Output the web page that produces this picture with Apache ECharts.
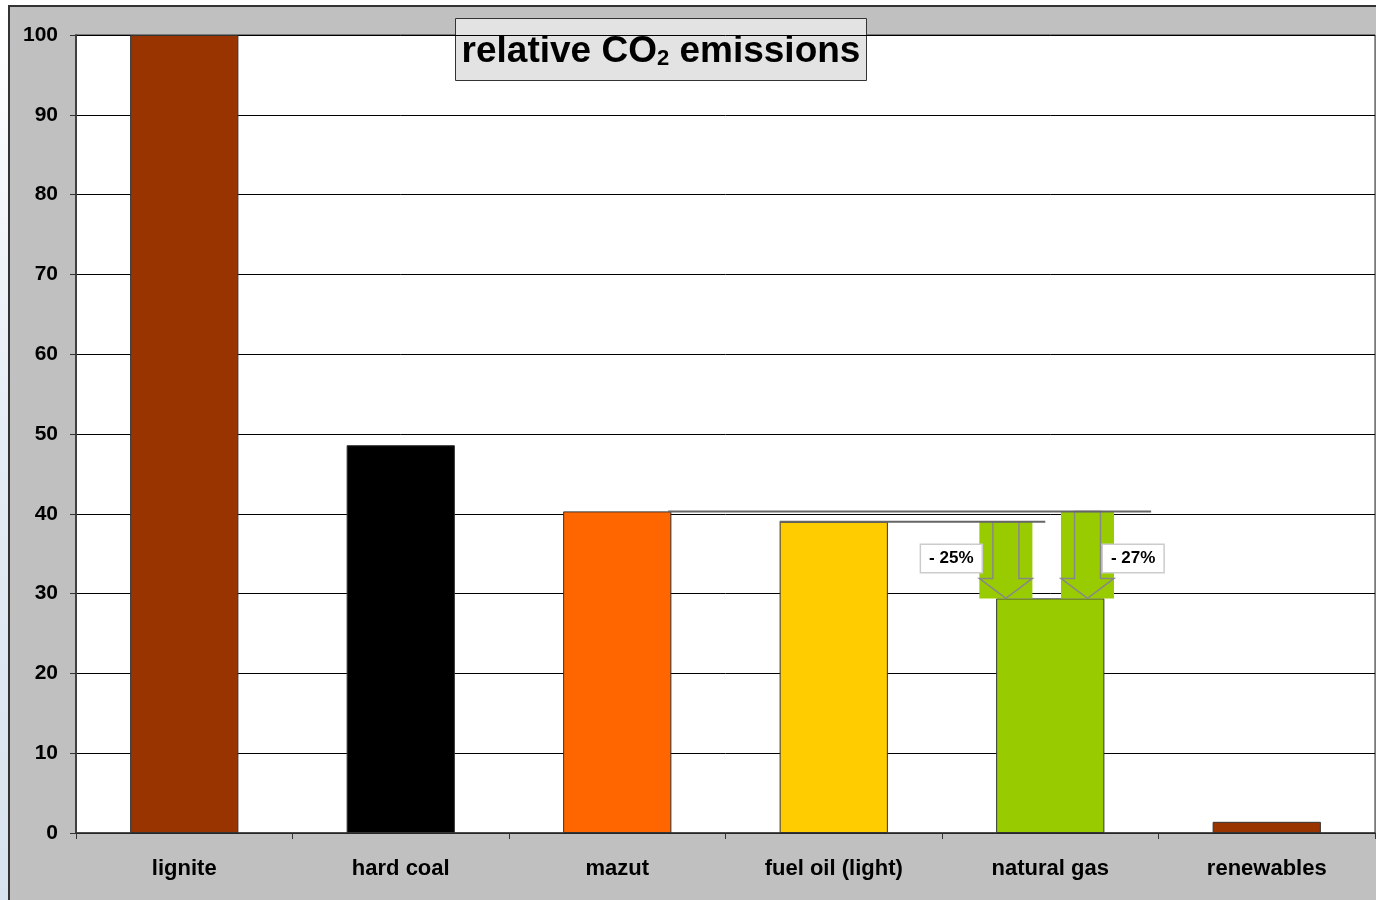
<!DOCTYPE html>
<html>
<head>
<meta charset="utf-8">
<title>relative CO2 emissions</title>
<script src="https://cdn.jsdelivr.net/npm/echarts@6/dist/echarts.min.js"></script>
<style>
  html, body { margin: 0; padding: 0; background: #fff; }
  #chart { width: 1376px; height: 900px; }
</style>
</head>
<body>
<div id="chart"></div>
<script>
// ---- data ----
const categories = ['lignite', 'hard coal', 'mazut', 'fuel oil (light)', 'natural gas', 'renewables']
const emissions = [100, 48.6, 40.3, 39.0, 29.4, 1.4]
const barColors = ['#993300', '#000000', '#ff6600', '#ffcc00', '#99cc00', '#993300']

const yMin = 0
const yMax = 100
const yStep = 10

// reduction arrows: from these categories down to natural gas
const reductionFrom = ['fuel oil (light)', 'mazut']
const reductionTo = 'natural gas'
const reductionLabels = ['- 25%', '- 27%']

const FONT = "'Liberation Sans', Arial, sans-serif"

// layout of each arrow, in fractions of a category width
const arrowLayout = [
  { arrow: -0.205, lineFrom: -0.25, lineTo: -0.023, label: -0.457 },
  { arrow: 0.172, lineFrom: 0.235, lineTo: 0.466, label: 0.383 }
]

const reductionData = reductionFrom.map((name) => {
  const f = categories.indexOf(name)
  const t = categories.indexOf(reductionTo)
  return [f, emissions[f], t, emissions[t]]
})

const renderArrow = (params, api) => {
  const i = params.dataIndex
  const L = arrowLayout[i]
  const bw = api.size([1, 0])[0]
  const top = api.coord([api.value(0), api.value(1)])
  const bottom = api.coord([api.value(2), api.value(3)])
  const ax = bottom[0] + L.arrow * bw
  const aw = 0.245 * bw
  const sw = 0.06 * bw
  const headY = bottom[1] - 20
  const topY = top[1]
  return {
    type: 'group',
    children: [
      {
        type: 'rect',
        shape: { x: ax - aw / 2, y: topY, width: aw, height: bottom[1] - topY },
        style: { fill: '#99cc00' }
      },
      {
        type: 'polygon',
        shape: {
          points: [
            [ax - sw, topY], [ax + sw, topY], [ax + sw, headY],
            [ax + aw / 2, headY], [ax, bottom[1]], [ax - aw / 2, headY],
            [ax - sw, headY]
          ]
        },
        style: { fill: 'none', stroke: '#888', lineWidth: 1.5 }
      },
      {
        type: 'line',
        shape: {
          x1: top[0] + L.lineFrom * bw, y1: topY,
          x2: bottom[0] + L.lineTo * bw, y2: topY
        },
        style: { stroke: '#666', lineWidth: 2 }
      },
      {
        type: 'text',
        x: bottom[0] + L.label * bw,
        y: bottom[1] - 40,
        style: {
          text: reductionLabels[i],
          font: 'bold 17px ' + FONT,
          fill: '#000',
          align: 'center',
          verticalAlign: 'middle',
          backgroundColor: '#fff',
          borderColor: '#ccc',
          borderWidth: 1.5,
          padding: [5, 8]
        }
      }
    ]
  }
}

const chart = echarts.init(document.getElementById('chart'))
chart.setOption({
  backgroundColor: '#c0c0c0',
  animation: false,
  grid: {
    left: 76, right: 1, top: 35, bottom: 67,
    show: true, backgroundColor: '#fff', borderColor: '#333', borderWidth: 1
  },
  xAxis: {
    type: 'category',
    data: categories,
    axisLine: { lineStyle: { color: '#333', width: 1.5 } },
    axisTick: { show: true, length: 6, lineStyle: { color: '#333' } },
    axisLabel: {
      color: '#000', fontFamily: FONT, fontWeight: 'bold', fontSize: 22, margin: 25
    }
  },
  yAxis: {
    type: 'value',
    min: yMin, max: yMax, interval: yStep,
    axisLine: { show: true, lineStyle: { color: '#404040', width: 2 } },
    axisTick: { show: true, length: 6, lineStyle: { color: '#333' } },
    axisLabel: {
      color: '#000', fontFamily: FONT, fontWeight: 'bold', fontSize: 21, margin: 18,
      padding: [4, 0, 0, 0]
    },
    splitLine: { lineStyle: { color: '#000', width: 1 } }
  },
  series: [
    {
      type: 'bar',
      barWidth: '50%',
      data: emissions.map((v, i) => ({
        value: v,
        itemStyle: { color: barColors[i], borderColor: '#333', borderWidth: 1 }
      }))
    },
    {
      type: 'custom',
      renderItem: renderArrow,
      data: reductionData,
      clip: false,
      z: 5,
      silent: true
    }
  ],
  graphic: [
    // slide background strip to the left of the chart frame
    {
      type: 'rect', z: 50,
      shape: { x: 0, y: 0, width: 8, height: 900 },
      style: {
        fill: new echarts.graphic.LinearGradient(0, 0, 0, 1, [
          { offset: 0, color: '#ffffff' },
          { offset: 0.5, color: '#e4ecf4' },
          { offset: 1, color: '#d6e2ee' }
        ])
      }
    },
    {
      type: 'rect', z: 50,
      shape: { x: 0, y: 0, width: 1376, height: 6 },
      style: { fill: '#fff' }
    },
    {
      type: 'polyline', z: 51,
      shape: { points: [[9, 900], [9, 6], [1376, 6]] },
      style: { stroke: '#333', lineWidth: 2, fill: 'none' }
    },
    // title box
    {
      type: 'group', z: 100,
      children: [
        {
          type: 'rect',
          shape: { x: 455.5, y: 18.5, width: 411, height: 62 },
          style: { fill: '#e3e3e3', stroke: '#333', lineWidth: 1 }
        },
        {
          type: 'text',
          x: 661, y: 50,
          style: {
            text: '{a|relative CO}{s|2}{a| emissions}',
            align: 'center',
            verticalAlign: 'middle',
            rich: {
              a: { font: 'bold 37px ' + FONT, fill: '#000', lineHeight: 40, verticalAlign: 'bottom' },
              s: { font: 'bold 22px ' + FONT, fill: '#000', lineHeight: 18, verticalAlign: 'bottom' }
            }
          }
        }
      ]
    }
  ]
})
</script>
</body>
</html>
